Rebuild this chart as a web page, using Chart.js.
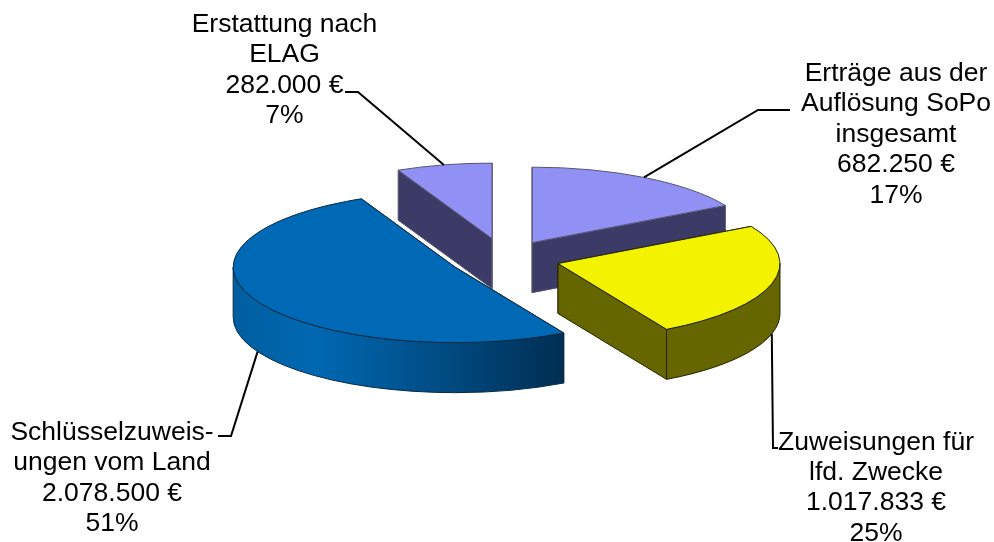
<!DOCTYPE html>
<html>
<head>
<meta charset="utf-8">
<script src="https://cdn.jsdelivr.net/npm/chart.js@4/dist/chart.umd.min.js"></script>
<style>
    body { margin: 0; background: #fff; }
    #wrap { width: 994px; height: 542px; }
</style>
</head>
<body>
<div id="wrap"><canvas id="pie" width="994" height="542"></canvas></div>
<script>
// data
const categories = [
    ['Erträge aus der', 'Auflösung SoPo', 'insgesamt'],
    ['Zuweisungen für', 'lfd. Zwecke'],
    ['Schlüsselzuweis-', 'ungen vom Land'],
    ['Erstattung nach', 'ELAG'],
];
const amounts = [682250, 1017833, 2078500, 282000];

// look of the slices
const topColors = ['#9090f5', '#f3f300', '#0069b5', '#9090f5'];
const wallColors = ['#3c3a66', '#666600', '#0069b5', '#3c3a66'];
const edgeColors = ['#55556f', '#222200', '#0a2a44', '#55556f'];
const explode = [54, 55, 56, 60];

const SQUASH = 0.34;
const DEPTH = 50;
const RADIUS = 222;
const FONT_SIZE = 26.5;
const LINE_HEIGHT = 30.4;

// where each label sits: text centre, first baseline, leader elbow points
const labelBoxes = [
    { x: 896, y: 81, elbow: [[790, 110], [758, 110]] },
    { x: 876, y: 449.5, elbow: [[778, 448], [773, 448]] },
    { x: 112, y: 440, elbow: [[218, 436], [231, 436]] },
    { x: 284.5, y: 32, elbow: [[345, 92], [358, 92]] },
];

function sliceGeometry(arc, i) {
    const mid = (arc.startAngle + arc.endAngle) / 2;
    const x = arc.x + Math.cos(mid) * explode[i];
    const y = arc.y + Math.sin(mid) * explode[i] * SQUASH;
    const r = arc.outerRadius;

    return {
        x,
        y,
        r,
        mid,
        rimX: (a) => x + Math.cos(a) * r,
        rimY: (a) => y + Math.sin(a) * r * SQUASH,
    };
}

function drawFace(ctx, g, a, fill, edge) {
    ctx.beginPath();
    ctx.moveTo(g.x, g.y);
    ctx.lineTo(g.rimX(a), g.rimY(a));
    ctx.lineTo(g.rimX(a), g.rimY(a) + DEPTH);
    ctx.lineTo(g.x, g.y + DEPTH);
    ctx.closePath();
    ctx.fillStyle = fill;
    ctx.fill();
    ctx.strokeStyle = edge;
    ctx.stroke();
}

function rimFill(ctx, g, arc, i) {
    if (i !== 2) {
        return wallColors[i];
    }

    // the big slice gets darker towards its right end
    const gradient = ctx.createLinearGradient(g.x - g.r, 0, g.rimX(arc.startAngle), 0);
    gradient.addColorStop(0, '#005f9f');
    gradient.addColorStop(0.25, '#0068b2');
    gradient.addColorStop(0.6, '#004e87');
    gradient.addColorStop(1, '#002e52');
    return gradient;
}

function drawRim(ctx, g, arc, i) {
    const from = Math.max(arc.startAngle, 0);
    const to = Math.min(arc.endAngle, Math.PI);

    if (to <= from) {
        return;
    }

    ctx.beginPath();
    ctx.ellipse(g.x, g.y, g.r, g.r * SQUASH, 0, from, to);
    ctx.ellipse(g.x, g.y + DEPTH, g.r, g.r * SQUASH, 0, to, from, true);
    ctx.closePath();
    ctx.fillStyle = rimFill(ctx, g, arc, i);
    ctx.fill();
    ctx.strokeStyle = edgeColors[i];
    ctx.stroke();
}

function drawTop(ctx, g, arc, i) {
    ctx.save();
    ctx.translate(g.x, g.y);
    ctx.scale(1, SQUASH);
    ctx.translate(-arc.x, -arc.y);
    arc.draw(ctx);
    ctx.restore();

    // outline after the squash so that the line keeps its width
    ctx.beginPath();
    ctx.moveTo(g.x, g.y);
    ctx.ellipse(g.x, g.y, g.r, g.r * SQUASH, 0, arc.startAngle, arc.endAngle);
    ctx.closePath();
    ctx.strokeStyle = edgeColors[i];
    ctx.stroke();
}

function drawLabel(ctx, g, i, total) {
    const box = labelBoxes[i];
    const front = Math.sin(g.mid) > 0;

    // leader starts on the rim at the middle of the slice
    ctx.beginPath();
    ctx.moveTo(g.rimX(g.mid), g.rimY(g.mid) + (front ? DEPTH : 0));
    [...box.elbow].reverse().forEach(([x, y]) => ctx.lineTo(x, y));
    ctx.strokeStyle = '#000';
    ctx.lineWidth = 2;
    ctx.stroke();
    ctx.lineWidth = 1;

    const lines = [
        ...categories[i],
        amounts[i].toLocaleString('de-DE') + ' €',
        Math.round(amounts[i] / total * 100) + '%',
    ];

    ctx.font = FONT_SIZE + 'px "Liberation Sans"';
    ctx.textAlign = 'center';
    ctx.textBaseline = 'alphabetic';
    ctx.fillStyle = '#000';
    lines.forEach((line, n) => ctx.fillText(line, box.x, box.y + n * LINE_HEIGHT));
}

const pie3d = {
    id: 'pie3d',
    beforeDatasetsDraw(chart) {
        const ctx = chart.ctx;
        const arcs = chart.getDatasetMeta(0).data;
        const geometry = arcs.map((arc, i) => sliceGeometry(arc, i));
        const total = amounts.reduce((sum, v) => sum + v, 0);

        ctx.save();
        ctx.lineWidth = 1;

        // back to front
        [3, 0, 1, 2].forEach((i) => {
            const g = geometry[i];
            const arc = arcs[i];

            drawFace(ctx, g, arc.startAngle, i === 2 ? '#002e52' : wallColors[i], edgeColors[i]);
            drawFace(ctx, g, arc.endAngle, i === 2 ? '#002e52' : wallColors[i], edgeColors[i]);
            drawRim(ctx, g, arc, i);
            drawTop(ctx, g, arc, i);
        });

        arcs.forEach((arc, i) => drawLabel(ctx, geometry[i], i, total));
        ctx.restore();

        return false;
    },
};

new Chart(document.getElementById('pie').getContext('2d'), {
    type: 'pie',
    data: {
        labels: categories.map((lines) => lines.join(' ')),
        datasets: [{
            data: amounts,
            backgroundColor: topColors,
            borderWidth: 0,
        }],
    },
    options: {
        responsive: false,
        animation: false,
        radius: RADIUS,
        layout: { padding: { left: 16, bottom: 25 } },
        plugins: {
            legend: { display: false },
            tooltip: { enabled: false },
        },
    },
    plugins: [pie3d],
});
</script>
</body>
</html>
